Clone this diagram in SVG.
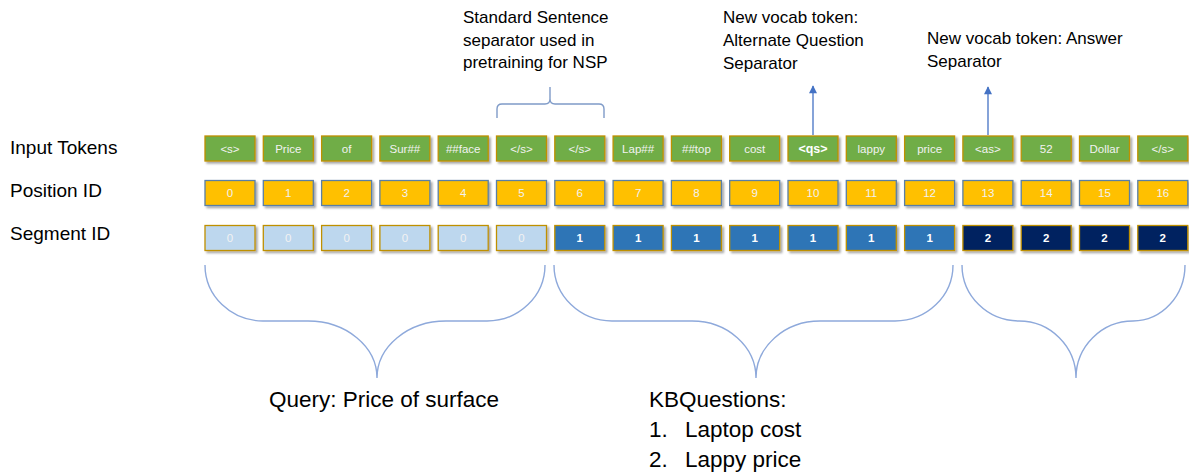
<svg xmlns="http://www.w3.org/2000/svg" width="1189" height="475" viewBox="0 0 1189 475">
<defs>
<filter id="sh" x="-20%" y="-30%" width="150%" height="170%">
<feDropShadow dx="2" dy="2" stdDeviation="1.3" flood-color="#000" flood-opacity="0.35"/>
</filter>
<marker id="ah" viewBox="0 0 10 10" refX="9" refY="5" markerWidth="9" markerHeight="8" markerUnits="userSpaceOnUse" orient="auto">
<path d="M0,0 L10,5 L0,10 Z" fill="#4472C4"/>
</marker>
</defs>
<style>
text{font-family:"Liberation Sans",Arial,sans-serif}
.lbl{font-size:19px;fill:#000}
.ann{font-size:17px;fill:#000}
.big{font-size:22.5px;fill:#000}
.box{filter:url(#sh);stroke-width:1.3}
.tok{fill:#70AD47;stroke:#BF9000}
.pos{fill:#FFC000;stroke:#5A7FA6}
.s0{fill:#BDD7EE;stroke:#BF9000}
.s1{fill:#2E75B6;stroke:#BF9000}
.s2{fill:#002060;stroke:#BF9000}
.bt{font-size:11.5px;fill:#F2F2F2;text-anchor:middle}
.bb{font-size:11.5px;fill:#FFFFFF;text-anchor:middle;font-weight:bold}
.brace{fill:none;stroke:#8EA9DB;stroke-width:1.4}
.arr{fill:none;stroke:#4472C4;stroke-width:1.3}
</style>
<rect width="1189" height="475" fill="#FFFFFF"/>

<g id="row-labels">
<text class="lbl" x="10" y="154">Input Tokens</text>
<text class="lbl" x="10" y="197">Position ID</text>
<text class="lbl" x="10" y="240">Segment ID</text>
</g>

<g id="annotations">
<text class="ann" x="463" y="23">Standard Sentence</text>
<text class="ann" x="463" y="45.5">separator used in</text>
<text class="ann" x="463" y="68">pretraining for NSP</text>
<text class="ann" x="723" y="23">New vocab token:</text>
<text class="ann" x="723" y="46">Alternate Question</text>
<text class="ann" x="723" y="68.5">Separator</text>
<text class="ann" x="927" y="44">New vocab token: Answer</text>
<text class="ann" x="927" y="67">Separator</text>
<text class="big" x="269" y="407">Query: Price of surface</text>
<text class="big" x="649" y="407">KBQuestions:</text>
<text class="big" x="649" y="437">1.</text>
<text class="big" x="685" y="437">Laptop cost</text>
<text class="big" x="649" y="467">2.</text>
<text class="big" x="685" y="467">Lappy price</text>
</g>

<g id="tokens">
<g id="tok0"><rect class="box tok" x="205" y="136" width="50" height="25"/><text class="bt" x="230" y="152.5">&lt;s&gt;</text></g>
<g id="tok1"><rect class="box tok" x="263.3" y="136" width="50" height="25"/><text class="bt" x="288.3" y="152.5">Price</text></g>
<g id="tok2"><rect class="box tok" x="321.6" y="136" width="50" height="25"/><text class="bt" x="346.6" y="152.5">of</text></g>
<g id="tok3"><rect class="box tok" x="379.9" y="136" width="50" height="25"/><text class="bt" x="404.9" y="152.5">Sur##</text></g>
<g id="tok4"><rect class="box tok" x="438.2" y="136" width="50" height="25"/><text class="bt" x="463.2" y="152.5">##face</text></g>
<g id="tok5"><rect class="box tok" x="496.5" y="136" width="50" height="25"/><text class="bt" x="521.5" y="152.5">&lt;/s&gt;</text></g>
<g id="tok6"><rect class="box tok" x="554.8" y="136" width="50" height="25"/><text class="bt" x="579.8" y="152.5">&lt;/s&gt;</text></g>
<g id="tok7"><rect class="box tok" x="613.1" y="136" width="50" height="25"/><text class="bt" x="638.1" y="152.5">Lap##</text></g>
<g id="tok8"><rect class="box tok" x="671.4" y="136" width="50" height="25"/><text class="bt" x="696.4" y="152.5">##top</text></g>
<g id="tok9"><rect class="box tok" x="729.7" y="136" width="50" height="25"/><text class="bt" x="754.7" y="152.5">cost</text></g>
<g id="tok10"><rect class="box tok" x="788" y="136" width="50" height="25"/><text class="bb" x="813" y="152.5" style="font-size:12.5px">&lt;qs&gt;</text></g>
<g id="tok11"><rect class="box tok" x="846.3" y="136" width="50" height="25"/><text class="bt" x="871.3" y="152.5">lappy</text></g>
<g id="tok12"><rect class="box tok" x="904.6" y="136" width="50" height="25"/><text class="bt" x="929.6" y="152.5">price</text></g>
<g id="tok13"><rect class="box tok" x="962.9" y="136" width="50" height="25"/><text class="bt" x="987.9" y="152.5">&lt;as&gt;</text></g>
<g id="tok14"><rect class="box tok" x="1021.2" y="136" width="50" height="25"/><text class="bt" x="1046.2" y="152.5">52</text></g>
<g id="tok15"><rect class="box tok" x="1079.5" y="136" width="50" height="25"/><text class="bt" x="1104.5" y="152.5">Dollar</text></g>
<g id="tok16"><rect class="box tok" x="1137.8" y="136" width="50" height="25"/><text class="bt" x="1162.8" y="152.5">&lt;/s&gt;</text></g>
</g>

<g id="positions">
<g id="pos0"><rect class="box pos" x="205" y="180.5" width="50" height="25"/><text class="bt" x="230" y="197">0</text></g>
<g id="pos1"><rect class="box pos" x="263.3" y="180.5" width="50" height="25"/><text class="bt" x="288.3" y="197">1</text></g>
<g id="pos2"><rect class="box pos" x="321.6" y="180.5" width="50" height="25"/><text class="bt" x="346.6" y="197">2</text></g>
<g id="pos3"><rect class="box pos" x="379.9" y="180.5" width="50" height="25"/><text class="bt" x="404.9" y="197">3</text></g>
<g id="pos4"><rect class="box pos" x="438.2" y="180.5" width="50" height="25"/><text class="bt" x="463.2" y="197">4</text></g>
<g id="pos5"><rect class="box pos" x="496.5" y="180.5" width="50" height="25"/><text class="bt" x="521.5" y="197">5</text></g>
<g id="pos6"><rect class="box pos" x="554.8" y="180.5" width="50" height="25"/><text class="bt" x="579.8" y="197">6</text></g>
<g id="pos7"><rect class="box pos" x="613.1" y="180.5" width="50" height="25"/><text class="bt" x="638.1" y="197">7</text></g>
<g id="pos8"><rect class="box pos" x="671.4" y="180.5" width="50" height="25"/><text class="bt" x="696.4" y="197">8</text></g>
<g id="pos9"><rect class="box pos" x="729.7" y="180.5" width="50" height="25"/><text class="bt" x="754.7" y="197">9</text></g>
<g id="pos10"><rect class="box pos" x="788" y="180.5" width="50" height="25"/><text class="bt" x="813" y="197">10</text></g>
<g id="pos11"><rect class="box pos" x="846.3" y="180.5" width="50" height="25"/><text class="bt" x="871.3" y="197">11</text></g>
<g id="pos12"><rect class="box pos" x="904.6" y="180.5" width="50" height="25"/><text class="bt" x="929.6" y="197">12</text></g>
<g id="pos13"><rect class="box pos" x="962.9" y="180.5" width="50" height="25"/><text class="bt" x="987.9" y="197">13</text></g>
<g id="pos14"><rect class="box pos" x="1021.2" y="180.5" width="50" height="25"/><text class="bt" x="1046.2" y="197">14</text></g>
<g id="pos15"><rect class="box pos" x="1079.5" y="180.5" width="50" height="25"/><text class="bt" x="1104.5" y="197">15</text></g>
<g id="pos16"><rect class="box pos" x="1137.8" y="180.5" width="50" height="25"/><text class="bt" x="1162.8" y="197">16</text></g>
</g>

<g id="segments">
<g id="seg0"><rect class="box s0" x="205" y="225.5" width="50" height="25"/><text class="bt" x="230" y="242">0</text></g>
<g id="seg1"><rect class="box s0" x="263.3" y="225.5" width="50" height="25"/><text class="bt" x="288.3" y="242">0</text></g>
<g id="seg2"><rect class="box s0" x="321.6" y="225.5" width="50" height="25"/><text class="bt" x="346.6" y="242">0</text></g>
<g id="seg3"><rect class="box s0" x="379.9" y="225.5" width="50" height="25"/><text class="bt" x="404.9" y="242">0</text></g>
<g id="seg4"><rect class="box s0" x="438.2" y="225.5" width="50" height="25"/><text class="bt" x="463.2" y="242">0</text></g>
<g id="seg5"><rect class="box s0" x="496.5" y="225.5" width="50" height="25"/><text class="bt" x="521.5" y="242">0</text></g>
<g id="seg6"><rect class="box s1" x="554.8" y="225.5" width="50" height="25"/><text class="bb" x="579.8" y="242">1</text></g>
<g id="seg7"><rect class="box s1" x="613.1" y="225.5" width="50" height="25"/><text class="bb" x="638.1" y="242">1</text></g>
<g id="seg8"><rect class="box s1" x="671.4" y="225.5" width="50" height="25"/><text class="bb" x="696.4" y="242">1</text></g>
<g id="seg9"><rect class="box s1" x="729.7" y="225.5" width="50" height="25"/><text class="bb" x="754.7" y="242">1</text></g>
<g id="seg10"><rect class="box s1" x="788" y="225.5" width="50" height="25"/><text class="bb" x="813" y="242">1</text></g>
<g id="seg11"><rect class="box s1" x="846.3" y="225.5" width="50" height="25"/><text class="bb" x="871.3" y="242">1</text></g>
<g id="seg12"><rect class="box s1" x="904.6" y="225.5" width="50" height="25"/><text class="bb" x="929.6" y="242">1</text></g>
<g id="seg13"><rect class="box s2" x="962.9" y="225.5" width="50" height="25"/><text class="bb" x="987.9" y="242">2</text></g>
<g id="seg14"><rect class="box s2" x="1021.2" y="225.5" width="50" height="25"/><text class="bb" x="1046.2" y="242">2</text></g>
<g id="seg15"><rect class="box s2" x="1079.5" y="225.5" width="50" height="25"/><text class="bb" x="1104.5" y="242">2</text></g>
<g id="seg16"><rect class="box s2" x="1137.8" y="225.5" width="50" height="25"/><text class="bb" x="1162.8" y="242">2</text></g>
</g>

<g id="connectors">
<path class="brace" style="stroke:#7F9BC8" d="M497,118 L497,109 Q497,104 502,104 L545,104 Q550,104 550,99 L550,87 M550,99 Q550,104 555,104 L599,104 Q604,104 604,109 L604,118"/>
<line class="arr" x1="813" y1="135" x2="813" y2="86" marker-end="url(#ah)"/>
<line class="arr" x1="988" y1="135" x2="988" y2="87" marker-end="url(#ah)"/>
<path class="brace" d="M205,265 A58,56 0 0 0 263,321 L308,321 A69,57 0 0 1 377,378 A69,57 0 0 1 446,321 L487,321 A58,56 0 0 0 545,265"/>
<path class="brace" d="M554,265 A58,56 0 0 0 612,321 L692,321 A64,57 0 0 1 756,378 A64,57 0 0 1 820,321 L895,321 A58,56 0 0 0 953,265"/>
<path class="brace" d="M962,265 A57,56 0 0 0 1019,321 A57,57 0 0 1 1076,378 A57,57 0 0 1 1133,321 A52,56 0 0 0 1185,265"/>
</g>
</svg>
